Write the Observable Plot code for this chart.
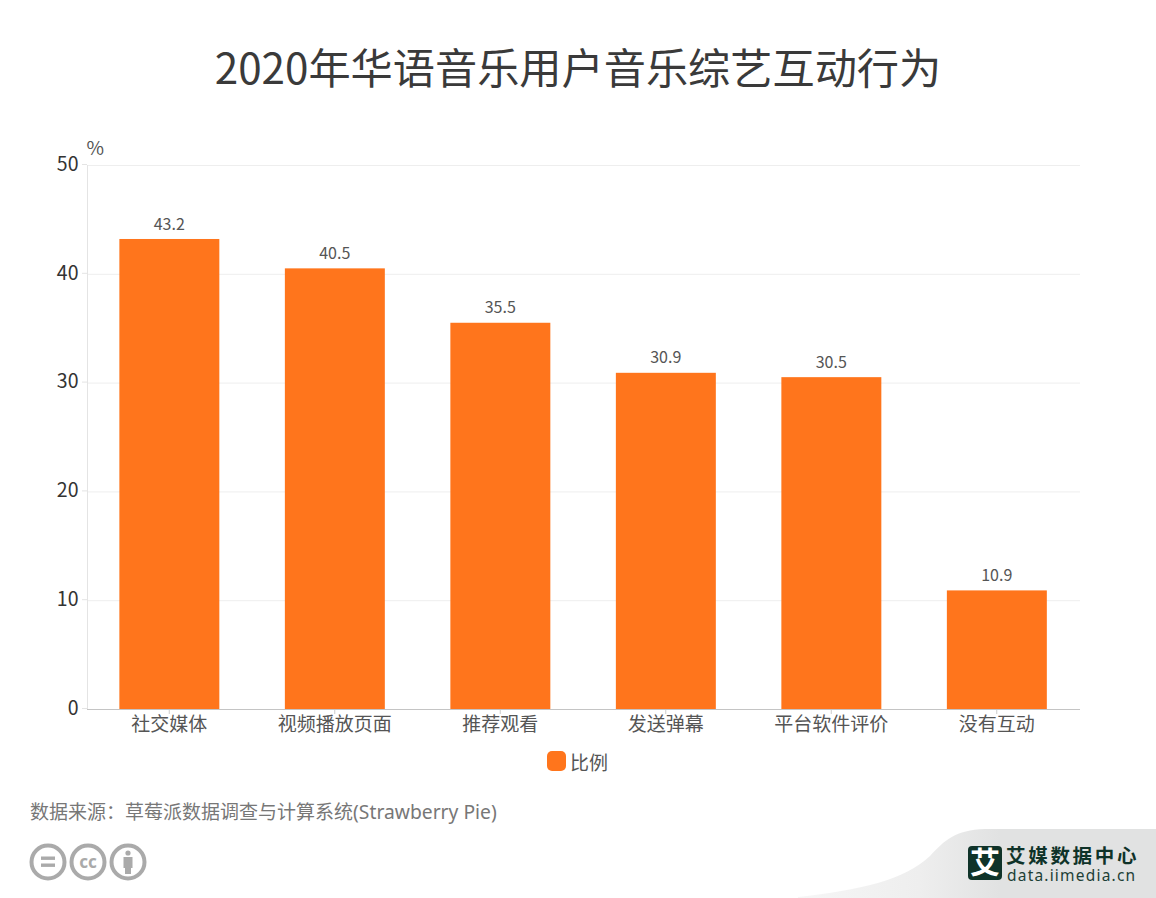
<!DOCTYPE html>
<html lang="zh">
<head>
<meta charset="utf-8">
<script src="https://cdn.jsdelivr.net/npm/d3@7"></script>
<script src="https://cdn.jsdelivr.net/npm/@observablehq/plot@0.6"></script>
<style>
html,body{margin:0;padding:0;background:#fff;width:1156px;height:898px;overflow:hidden;font-family:"Noto Sans CJK SC","Noto Sans",sans-serif;}
#page{position:relative;width:1156px;height:898px;}
#title{position:absolute;left:0;top:34px;width:1156px;text-align:center;font-size:42.2px;line-height:64px;color:#3a3a3a;}
#chart{position:absolute;left:0;top:130px;}
#legend{position:absolute;left:547px;top:747px;height:28px;display:flex;align-items:center;color:#555;font-size:19px;}
#legend i{display:block;width:19px;height:20px;border-radius:5px;background:#ff751c;margin-right:4px;}
#source{position:absolute;left:30px;top:797px;font-size:19px;line-height:28px;color:#777;white-space:nowrap;}
#source .c{font-family:"Noto Sans CJK TC";}
#source .l{font-family:"Noto Sans",sans-serif;font-size:19.3px;}
#deco{position:absolute;left:0;top:0;}
</style>
</head>
<body>
<div id="page">
<svg id="deco" width="1156" height="898" xmlns="http://www.w3.org/2000/svg">
  <defs>
    <linearGradient id="sw" x1="798" y1="0" x2="1000" y2="0" gradientUnits="userSpaceOnUse">
      <stop offset="0" stop-color="#f6f6f6"/><stop offset="0.6" stop-color="#eeeeee"/><stop offset="1" stop-color="#e1e2e2"/>
    </linearGradient>
  </defs>
  <path d="M798 897 C860 890 905 880 930 856 C945 840 955 830 985 829 L1156 829 L1156 898 L798 898 Z" fill="url(#sw)"/>
  <g fill="none" stroke="#aaa" stroke-width="4">
    <circle cx="48" cy="862" r="16.5"/><circle cx="88" cy="862" r="16.5"/><circle cx="128" cy="862" r="16.5"/>
  </g>
  <g fill="#aaa">
    <rect x="41" y="856.5" width="14" height="3.4"/><rect x="41" y="863.5" width="14" height="3.4"/>
    <circle cx="128" cy="853" r="2.6"/><rect x="123.5" y="857" width="9" height="11"/><rect x="125" y="866" width="6" height="8"/>
  </g>
  <text x="88" y="868" text-anchor="middle" font-family="Noto Sans,sans-serif" font-weight="700" font-size="17" fill="#aaa">cc</text>
  <rect x="968" y="846" width="34" height="34" rx="4" fill="#0f3329"/>
  <text x="985" y="873" text-anchor="middle" font-family="Noto Sans CJK SC" font-weight="700" font-size="30" fill="#fff">艾</text>
  <text x="1006" y="863" font-family="Noto Sans CJK SC" font-weight="700" font-size="19.5" letter-spacing="2.7" fill="#0f3329">艾媒数据中心</text>
  <text x="1007" y="881" font-family="Noto Sans,sans-serif" font-size="15.5" letter-spacing="1.2" fill="#1d3f36">data.iimedia.cn</text>
</svg>
<div id="title">2020年华语音乐用户音乐综艺互动行为</div>
<div id="chart"></div>
<div id="legend"><i></i><span>比例</span></div>
<div id="source">数据来源<span class="c">：</span>草莓派数据调查与计算系统<span class="l">(Strawberry Pie)</span></div>
</div>
<script>
const categories = ["社交媒体", "视频播放页面", "推荐观看", "发送弹幕", "平台软件评价", "没有互动"];
const values = [43.2, 40.5, 35.5, 30.9, 30.5, 10.9];
const yTicks = [0, 10, 20, 30, 40, 50];
const rows = categories.map((c, i) => ({category: c, value: values[i]}));

const plot = Plot.plot({
  width: 1156,
  height: 610,
  marginTop: 35,
  marginBottom: 31,
  marginLeft: 87,
  marginRight: 76,
  style: {fontFamily: '"Noto Sans CJK SC","Noto Sans",sans-serif', background: "transparent", overflow: "visible"},
  x: {domain: categories, paddingInner: 0.396, paddingOuter: 0.198, align: 0.5, round: false},
  y: {domain: [0, 50]},
  marks: [
    Plot.gridY(yTicks, {stroke: "#eee", strokeOpacity: 1}),
    Plot.frame({anchor: "left", stroke: "#e4e4e4"}),
    Plot.axisY({ticks: yTicks, tickSize: 5, tickPadding: 4, stroke: "#e4e4e4", fontSize: 19.5, color: "#333", label: null, dy: -1}),
    Plot.axisX({tickSize: 5, tickPadding: 3, stroke: "#ccc", fontSize: 19, color: "#555", label: null, dx: -1}),
    Plot.barY(rows, {x: "category", y: "value", fill: "#ff751c", dx: -0.4}),
    Plot.ruleY([0], {stroke: "#c4c4c4"}),
    Plot.text(rows, {x: "category", y: "value", text: d => d.value.toFixed(1), dy: -15, dx: -1, fontSize: 16, fill: "#555"}),
    Plot.text(["%"], {frameAnchor: "top-left", dx: -1, dy: -24, fontSize: 19, fill: "#555", textAnchor: "start"})
  ]
});
document.getElementById("chart").appendChild(plot);
</script>
</body>
</html>
